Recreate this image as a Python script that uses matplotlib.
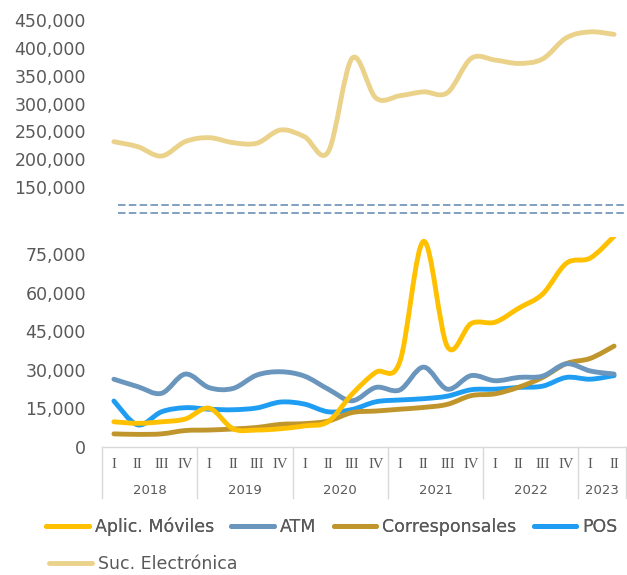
import matplotlib
matplotlib.use('Agg')
import matplotlib.pyplot as plt
from matplotlib.path import Path
from matplotlib.patches import PathPatch
from matplotlib.lines import Line2D
from matplotlib.ticker import FuncFormatter

# Quarterly series, 2018-I .. 2023-II
quarters = ['I', 'II', 'III', 'IV'] * 5 + ['I', 'II']
years = ['2018', '2019', '2020', '2021', '2022', '2023']

aplic = [9700, 9100, 9700, 10800, 15000, 7000, 6500, 7000, 8100, 9800, 20500,
         29000, 33000, 80000, 39000, 48000, 48500, 54000, 59500, 71500, 73500, 82000]
atm = [26300, 23400, 20800, 28300, 23000, 22700, 27900, 29200, 27500, 22400, 17900,
       23100, 22100, 31000, 22400, 27700, 25700, 27000, 27500, 32300, 29500, 28300]
corresp = [5000, 4800, 5000, 6300, 6500, 6900, 7500, 8700, 9000, 10000, 13300,
           13900, 14600, 15300, 16500, 19900, 20600, 23200, 27000, 32400, 34400, 39200]
pos = [17800, 8500, 13600, 15200, 14600, 14400, 15100, 17400, 16600, 13600, 14500,
       17500, 18200, 18700, 19700, 22200, 22400, 23100, 23600, 27000, 26300, 27700]
suc = [231700, 222800, 206000, 232000, 238900, 230000, 229000, 252700, 240700, 213800, 381200,
       310000, 314000, 321000, 319500, 381000, 378000, 372000, 380000, 418000, 428500, 424000]

c_aplic = '#FFC000'
c_atm = '#6A96BE'
c_corr = '#C0952B'
c_pos = '#1F9DF2'
c_suc = '#EBD28B'
txt = '#595959'
grid_c = '#D9D9D9'

W, H = 627, 575
fig = plt.figure(figsize=(W / 100, H / 100), dpi=100)


def px(x0, y0, x1, y1):
    # pixel box (top-left origin) -> figure fraction rect
    return [x0 / W, 1 - y1 / H, (x1 - x0) / W, (y1 - y0) / H]


def smooth(ax, x, y, color):
    # Excel-style smoothed line drawn as cubic bezier segments
    n = len(x)
    verts = [(x[0], y[0])]
    codes = [Path.MOVETO]
    for i in range(n - 1):
        xa, ya = (x[i - 1], y[i - 1]) if i > 0 else (x[i], y[i])
        xb, yb = (x[i + 2], y[i + 2]) if i + 2 < n else (x[i + 1], y[i + 1])
        c1 = (x[i] + (x[i + 1] - xa) / 6, y[i] + (y[i + 1] - ya) / 6)
        c2 = (x[i + 1] - (xb - x[i]) / 6, y[i + 1] - (yb - y[i]) / 6)
        verts += [c1, c2, (x[i + 1], y[i + 1])]
        codes += [Path.CURVE4] * 3
    ax.add_patch(PathPatch(Path(verts, codes), fill=False, edgecolor=color,
                           lw=3.5, capstyle='round', joinstyle='round'))


xs = list(range(len(quarters)))
fmt = FuncFormatter(lambda v, p: f'{v:,.0f}')

ax_top = fig.add_axes(px(102, 10, 626, 195))
ax_bot = fig.add_axes(px(102, 237, 626, 446.7))

for ax in (ax_top, ax_bot):
    ax.set_xlim(-0.5, 21.5)
    for s in ax.spines.values():
        s.set_visible(False)
    ax.set_xticks([])
    ax.tick_params(axis='y', length=0, pad=11.5, labelsize=12.5, labelcolor=txt)
    ax.yaxis.set_major_formatter(fmt)
    ax.patch.set_alpha(0)

ax_top.set_ylim(136200, 467700)
ax_top.set_yticks(range(150000, 450001, 50000))
smooth(ax_top, xs, suc, c_suc)

ax_bot.set_ylim(0, 81700)
ax_bot.set_yticks(range(0, 75001, 15000))
smooth(ax_bot, xs, pos, c_pos)
smooth(ax_bot, xs, corresp, c_corr)
smooth(ax_bot, xs, atm, c_atm)
smooth(ax_bot, xs, aplic, c_aplic)

# category axis box
trans = ax_bot.get_xaxis_transform()
ax_bot.plot([-0.5, 21.5], [0, 0], color=grid_c, lw=1, transform=trans, clip_on=False)
box_bottom = -0.245
for b in [-0.5, 3.5, 7.5, 11.5, 15.5, 19.5, 21.5]:
    ax_bot.plot([b, b], [0, box_bottom], color=grid_c, lw=1, transform=trans, clip_on=False)
for i, q in enumerate(quarters):
    ax_bot.text(i, -0.084, q, transform=trans, ha='center', va='center',
                fontsize=10.5, color=txt, family='Liberation Serif')
for k, yr in enumerate(years):
    cx = 4 * k + 1.5 if k < 5 else 20.5
    ax_bot.text(cx, -0.207, yr, transform=trans, ha='center', va='center',
                fontsize=9.5, color=txt)

# axis break marks
for yy in (205, 213.5):
    fig.add_artist(Line2D([118 / W, 1], [1 - yy / H] * 2, transform=fig.transFigure,
                          color='#6A8FB8', lw=1.2, linestyle=(0, (4.5, 2))))

# legends
def handle(c):
    return Line2D([], [], color=c, lw=3.5, solid_capstyle='round')

leg1 = fig.legend([handle(c_aplic), handle(c_atm), handle(c_corr), handle(c_pos)],
                  ['Aplic. Móviles', 'ATM', 'Corresponsales', 'POS'],
                  loc='center left', bbox_to_anchor=(46 / W, 1 - 526.7 / H), ncol=4,
                  frameon=False, fontsize=12.5, handlelength=2.45, handletextpad=0.35,
                  columnspacing=1.0, borderpad=0, borderaxespad=0, labelcolor=txt)
leg2 = fig.legend([handle(c_suc)], ['Suc. Electrónica'],
                  loc='center left', bbox_to_anchor=(49 / W, 1 - 564 / H),
                  frameon=False, fontsize=12.5, handlelength=2.45, handletextpad=0.35,
                  borderpad=0, borderaxespad=0, labelcolor=txt)
fig.add_artist(leg1)

fig.savefig('out.png', dpi=100)
